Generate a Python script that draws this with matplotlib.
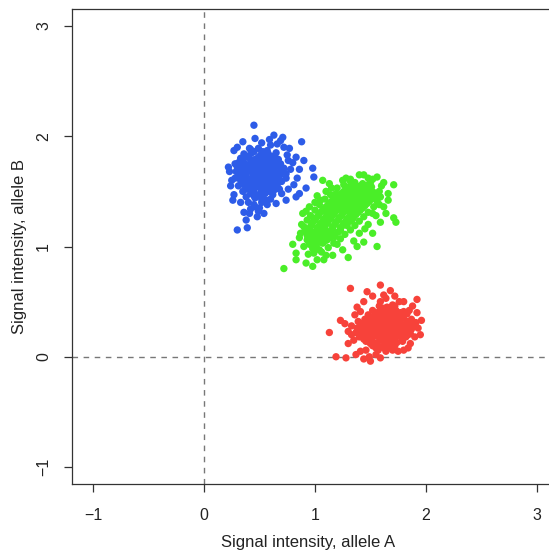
import matplotlib.pyplot as plt

plt.rcParams['font.family'] = ['Liberation Sans', 'DejaVu Sans']

# genotype clusters: (signal A, signal B)
bb_pts = [
    # dense core
    (0.42, 1.88), (0.49, 1.89), (0.57, 1.87),
    (0.36, 1.84), (0.43, 1.85), (0.51, 1.83), (0.58, 1.84), (0.65, 1.85),
    (0.33, 1.80), (0.39, 1.81), (0.46, 1.79), (0.53, 1.80), (0.60, 1.81), (0.67, 1.79),
    (0.31, 1.76), (0.37, 1.75), (0.43, 1.77), (0.49, 1.76), (0.55, 1.75), (0.62, 1.77), (0.69, 1.75),
    (0.30, 1.72), (0.36, 1.71), (0.42, 1.73), (0.48, 1.72), (0.54, 1.71), (0.60, 1.72), (0.66, 1.73), (0.72, 1.71),
    (0.29, 1.68), (0.35, 1.67), (0.41, 1.69), (0.47, 1.68), (0.53, 1.67), (0.59, 1.68), (0.65, 1.67), (0.71, 1.69),
    (0.31, 1.64), (0.38, 1.63), (0.44, 1.65), (0.50, 1.64), (0.56, 1.63), (0.62, 1.65), (0.68, 1.64),
    (0.33, 1.60), (0.40, 1.59), (0.46, 1.61), (0.52, 1.60), (0.58, 1.59), (0.64, 1.61), (0.70, 1.59),
    (0.36, 1.56), (0.42, 1.55), (0.48, 1.57), (0.55, 1.56), (0.61, 1.55), (0.66, 1.56),
    (0.38, 1.52), (0.45, 1.51), (0.51, 1.53), (0.58, 1.52), (0.63, 1.51),
    (0.42, 1.48), (0.49, 1.47), (0.55, 1.48), (0.46, 1.44), (0.52, 1.43),
    (0.40, 1.40), (0.46, 1.36), (0.52, 1.40), (0.42, 1.34), (0.49, 1.32),
    (0.45, 1.86), (0.53, 1.86), (0.39, 1.82), (0.49, 1.81), (0.56, 1.82), (0.63, 1.82),
    (0.35, 1.78), (0.42, 1.79), (0.50, 1.78), (0.57, 1.78), (0.64, 1.78),
    (0.33, 1.74), (0.40, 1.74), (0.46, 1.74), (0.52, 1.73), (0.58, 1.74), (0.65, 1.75),
    (0.33, 1.70), (0.39, 1.70), (0.45, 1.70), (0.51, 1.69), (0.57, 1.70), (0.63, 1.70), (0.69, 1.71),
    (0.32, 1.66), (0.38, 1.66), (0.44, 1.67), (0.50, 1.66), (0.56, 1.65), (0.62, 1.66), (0.68, 1.66),
    (0.35, 1.62), (0.41, 1.61), (0.48, 1.62), (0.54, 1.62), (0.60, 1.62), (0.66, 1.62),
    (0.37, 1.58), (0.44, 1.58), (0.50, 1.58), (0.57, 1.58), (0.63, 1.58),
    (0.40, 1.54), (0.47, 1.54), (0.54, 1.54), (0.60, 1.54),
    (0.44, 1.50), (0.52, 1.50), (0.58, 1.50), (0.45, 1.46), (0.51, 1.46),
    # outer points
    (0.45, 2.10), (0.63, 2.01), (0.71, 1.99), (0.69, 1.96), (0.59, 1.97), (0.88, 1.95),
    (0.35, 1.95), (0.27, 1.87), (0.41, 1.89), (0.75, 1.83), (0.83, 1.81), (0.90, 1.78),
    (0.98, 1.71), (0.23, 1.68), (0.99, 1.63), (0.84, 1.62), (0.27, 1.47), (0.26, 1.42),
    (0.81, 1.56), (0.86, 1.48), (0.92, 1.53), (0.83, 1.45), (0.65, 1.39), (0.36, 1.31),
    (0.41, 1.30), (0.54, 1.30), (0.48, 1.27), (0.30, 1.15), (0.39, 1.17), (0.74, 1.42),
    (0.57, 1.38), (0.25, 1.60), (0.28, 1.75), (0.78, 1.70), (0.80, 1.76), (0.76, 1.52),
    (0.70, 1.48), (0.33, 1.40), (0.45, 1.38), (0.60, 1.43), (0.38, 1.45), (0.50, 1.35),
    (0.31, 1.55), (0.22, 1.72), (0.77, 1.89), (0.52, 1.94), (0.46, 1.98),
    (0.74, 1.62), (0.76, 1.78), (0.72, 1.90), (0.66, 1.93), (0.30, 1.90), (0.24, 1.55),
    (0.28, 1.62), (0.74, 1.66), (0.86, 1.70), (0.68, 1.52), (0.35, 1.50), (0.62, 1.47),
    (0.56, 1.42), (0.38, 1.24), (0.60, 1.92),
]

ab_pts = [
    # dense core
    (1.36, 1.58), (1.43, 1.57),
    (1.31, 1.54), (1.38, 1.53), (1.45, 1.55), (1.51, 1.54),
    (1.26, 1.50), (1.33, 1.49), (1.40, 1.51), (1.47, 1.50), (1.53, 1.49),
    (1.21, 1.46), (1.28, 1.45), (1.35, 1.47), (1.42, 1.46), (1.49, 1.45), (1.55, 1.46),
    (1.16, 1.42), (1.23, 1.41), (1.30, 1.43), (1.37, 1.42), (1.44, 1.41), (1.51, 1.43),
    (1.12, 1.38), (1.19, 1.37), (1.26, 1.39), (1.33, 1.38), (1.40, 1.37), (1.47, 1.39),
    (1.08, 1.34), (1.15, 1.33), (1.22, 1.35), (1.29, 1.34), (1.36, 1.33), (1.43, 1.35),
    (1.04, 1.30), (1.11, 1.29), (1.18, 1.31), (1.25, 1.30), (1.32, 1.29), (1.39, 1.31),
    (1.01, 1.26), (1.08, 1.25), (1.15, 1.27), (1.22, 1.26), (1.29, 1.25), (1.35, 1.27),
    (0.98, 1.22), (1.05, 1.21), (1.12, 1.23), (1.19, 1.22), (1.26, 1.21), (1.32, 1.23),
    (0.96, 1.18), (1.02, 1.17), (1.09, 1.19), (1.16, 1.18), (1.23, 1.17), (1.29, 1.19),
    (0.94, 1.14), (1.00, 1.13), (1.07, 1.15), (1.14, 1.14), (1.21, 1.13),
    (0.93, 1.10), (0.99, 1.09), (1.06, 1.11), (1.12, 1.10), (1.18, 1.09),
    (0.93, 1.06), (0.99, 1.05), (1.05, 1.07), (1.11, 1.06),
    (0.95, 1.02), (1.01, 1.01), (1.07, 1.03), (0.98, 0.98), (1.04, 0.97),
    (1.34, 1.56), (1.41, 1.55), (1.48, 1.56), (1.29, 1.52), (1.36, 1.51), (1.43, 1.53), (1.50, 1.52),
    (1.24, 1.48), (1.31, 1.47), (1.38, 1.49), (1.45, 1.48), (1.52, 1.47),
    (1.19, 1.44), (1.26, 1.43), (1.33, 1.45), (1.40, 1.44), (1.47, 1.43), (1.54, 1.44),
    (1.14, 1.40), (1.21, 1.39), (1.28, 1.41), (1.35, 1.40), (1.42, 1.39), (1.49, 1.41),
    (1.10, 1.36), (1.17, 1.35), (1.24, 1.37), (1.31, 1.36), (1.38, 1.35), (1.45, 1.37),
    (1.06, 1.32), (1.13, 1.31), (1.20, 1.33), (1.27, 1.32), (1.34, 1.31), (1.41, 1.33),
    (1.03, 1.28), (1.10, 1.27), (1.17, 1.29), (1.24, 1.28), (1.31, 1.27), (1.37, 1.29),
    (1.00, 1.24), (1.07, 1.23), (1.14, 1.25), (1.21, 1.24), (1.28, 1.23), (1.34, 1.25),
    (0.97, 1.20), (1.04, 1.19), (1.11, 1.21), (1.18, 1.20), (1.25, 1.19),
    (0.95, 1.16), (1.02, 1.15), (1.09, 1.17), (1.16, 1.16), (1.23, 1.15),
    (0.96, 1.12), (1.03, 1.11), (1.09, 1.12), (1.15, 1.12),
    (0.96, 1.08), (1.02, 1.07), (1.08, 1.09), (1.14, 1.08),
    (0.98, 1.04), (1.04, 1.04), (1.09, 1.05), (1.01, 1.00),
    (1.58, 1.50), (1.56, 1.41), (1.53, 1.36), (1.48, 1.31), (1.44, 1.27), (1.40, 1.23),
    (1.36, 1.19), (1.32, 1.15), (1.27, 1.11), (1.23, 1.07), (1.17, 1.03), (1.12, 0.99),
    (1.06, 0.95), (0.99, 0.94), (1.14, 1.47), (1.09, 1.43), (1.04, 1.38), (1.00, 1.33),
    (0.96, 1.28), (0.93, 1.24), (0.91, 1.14), (1.20, 1.53), (1.26, 1.56), (1.32, 1.61),
    # outer points
    (1.07, 1.60), (1.13, 1.57), (1.32, 1.59), (1.40, 1.65), (1.44, 1.65), (1.56, 1.63),
    (1.71, 1.56), (1.50, 1.58), (1.59, 1.45), (1.62, 1.36), (1.71, 1.26), (1.73, 1.22),
    (1.59, 1.22), (1.44, 1.04), (1.56, 1.00), (1.30, 0.90), (1.25, 0.97), (0.72, 0.80),
    (0.83, 0.94), (0.83, 0.88), (0.92, 0.85), (0.98, 0.82), (1.02, 0.88), (0.90, 1.00),
    (0.89, 1.30), (0.90, 1.18), (1.05, 1.42), (1.19, 1.48), (1.16, 0.92), (1.08, 0.88),
    (1.60, 1.55), (1.52, 1.30), (1.48, 1.20), (1.40, 1.12), (1.35, 1.05), (1.20, 1.02),
    (0.86, 1.08), (0.80, 1.02), (1.00, 1.40), (0.95, 1.36), (1.10, 1.50), (1.58, 1.38),
    (1.66, 1.48), (1.28, 1.62), (1.48, 1.62), (0.88, 1.20), (1.52, 1.12),
    (1.62, 1.58), (1.66, 1.42), (1.55, 1.28), (1.45, 1.16), (1.38, 1.00), (1.10, 0.92),
    (0.94, 0.93), (0.87, 1.12), (0.92, 1.32), (1.02, 1.46), (1.15, 1.53), (1.25, 1.60),
    (1.52, 1.61), (1.64, 1.30),
]

aa_pts = [
    # dense core
    (1.58, 0.46), (1.65, 0.45), (1.72, 0.46),
    (1.52, 0.42), (1.59, 0.41), (1.66, 0.43), (1.73, 0.42), (1.80, 0.41),
    (1.48, 0.38), (1.55, 0.37), (1.62, 0.39), (1.69, 0.38), (1.76, 0.37), (1.83, 0.39),
    (1.45, 0.34), (1.52, 0.33), (1.59, 0.35), (1.66, 0.34), (1.73, 0.33), (1.80, 0.35), (1.87, 0.34),
    (1.42, 0.30), (1.49, 0.29), (1.56, 0.31), (1.63, 0.30), (1.70, 0.29), (1.77, 0.31), (1.84, 0.30), (1.90, 0.29),
    (1.38, 0.26), (1.45, 0.25), (1.52, 0.27), (1.59, 0.26), (1.66, 0.25), (1.73, 0.27), (1.80, 0.26), (1.87, 0.25),
    (1.37, 0.22), (1.44, 0.21), (1.51, 0.23), (1.58, 0.22), (1.65, 0.21), (1.72, 0.23), (1.79, 0.22), (1.86, 0.21),
    (1.40, 0.18), (1.47, 0.17), (1.54, 0.19), (1.61, 0.18), (1.68, 0.17), (1.75, 0.19), (1.82, 0.18),
    (1.46, 0.14), (1.53, 0.13), (1.60, 0.15), (1.67, 0.14), (1.74, 0.13),
    (1.52, 0.10), (1.59, 0.09), (1.66, 0.11), (1.72, 0.10),
    (1.57, 0.06), (1.64, 0.05), (1.70, 0.06),
    (1.62, 0.44), (1.69, 0.44), (1.56, 0.40), (1.63, 0.41), (1.70, 0.40), (1.77, 0.40),
    (1.51, 0.36), (1.58, 0.36), (1.65, 0.37), (1.72, 0.36), (1.79, 0.37),
    (1.48, 0.32), (1.55, 0.32), (1.62, 0.33), (1.69, 0.32), (1.76, 0.33), (1.83, 0.32),
    (1.45, 0.28), (1.52, 0.28), (1.59, 0.29), (1.66, 0.28), (1.73, 0.29), (1.80, 0.28), (1.87, 0.28),
    (1.41, 0.24), (1.48, 0.24), (1.55, 0.25), (1.62, 0.24), (1.69, 0.23), (1.76, 0.25), (1.83, 0.24),
    (1.42, 0.20), (1.49, 0.20), (1.56, 0.21), (1.63, 0.20), (1.70, 0.20), (1.77, 0.21), (1.84, 0.20),
    (1.44, 0.16), (1.51, 0.16), (1.58, 0.17), (1.65, 0.16), (1.72, 0.16), (1.79, 0.16),
    (1.50, 0.12), (1.56, 0.12), (1.63, 0.12), (1.70, 0.12),
    (1.55, 0.08), (1.62, 0.08), (1.68, 0.08),
    # outer points
    (1.32, 0.62), (1.59, 0.65), (1.47, 0.59), (1.52, 0.55), (1.64, 0.53), (1.59, 0.50),
    (1.92, 0.52), (1.41, 0.41), (1.23, 0.33), (1.13, 0.22), (1.30, 0.23), (1.92, 0.40),
    (1.95, 0.20), (1.91, 0.31), (1.39, 0.32), (1.19, 0.00), (1.28, -0.01), (1.37, 0.02),
    (1.49, 0.00), (1.50, -0.04), (1.59, -0.01), (1.84, 0.08), (1.79, 0.14), (1.41, 0.05),
    (1.44, -0.02), (1.55, 0.02), (1.88, 0.46),
    (1.80, 0.50), (1.72, 0.55), (1.70, 0.47), (1.93, 0.26), (1.35, 0.15), (1.30, 0.12),
    (1.33, 0.28), (1.36, 0.38), (1.86, 0.12), (1.75, 0.05), (1.96, 0.33), (1.68, 0.60),
    (1.38, 0.45), (1.44, 0.50), (1.85, 0.42), (1.90, 0.18), (1.80, 0.06), (1.33, 0.20),
    (1.27, 0.30), (1.62, 0.56), (1.76, 0.50), (1.46, 0.06),
]

ticks = [-1, 0, 1, 2, 3]
tick_labels = ['\u22121', '0', '1', '2', '3']

fig = plt.figure(figsize=(5.49, 5.55), dpi=100)
ax = fig.add_axes([72 / 549, 71 / 555, 482 / 549, 475 / 555])

ax.axvline(0, color='#777777', linestyle=(0, (4, 4)), linewidth=1, zorder=1)
ax.axhline(0, color='#777777', linestyle=(0, (4, 4)), linewidth=1, zorder=1)

for pts, col in [(bb_pts, '#2d5ce8'), (ab_pts, '#4aee28'), (aa_pts, '#f7423a')]:
    xs = [p[0] for p in pts]
    ys = [p[1] for p in pts]
    ax.scatter(xs, ys, s=28, color=col, edgecolors='none', zorder=2)

ax.set_xlim(-1.19, 3.155)
ax.set_ylim(-1.154, 3.154)
ax.set_xticks(ticks)
ax.set_xticklabels(tick_labels)
ax.set_yticks(ticks)
ax.set_yticklabels(tick_labels, rotation=90, va='center')
ax.tick_params(axis='both', length=6, width=0.9, colors='#333333', labelsize=11.5,
               labelcolor='#222222')
ax.tick_params(axis='x', pad=11)
ax.tick_params(axis='y', pad=9)

for side in ['left', 'bottom', 'top']:
    ax.spines[side].set_color('#333333')
    ax.spines[side].set_linewidth(0.9)
ax.spines['right'].set_visible(False)

ax.set_xlabel('Signal intensity, allele A', fontsize=12, color='#222222')
ax.set_ylabel('Signal intensity, allele B', fontsize=12, color='#222222')
ax.xaxis.set_label_coords(0.49, (484 - 543) / 475)
ax.yaxis.set_label_coords((20 - 72) / 482, 0.5)
ax.xaxis.label.set_va('center')
ax.yaxis.label.set_va('center')

fig.savefig('out.png', dpi=100)
